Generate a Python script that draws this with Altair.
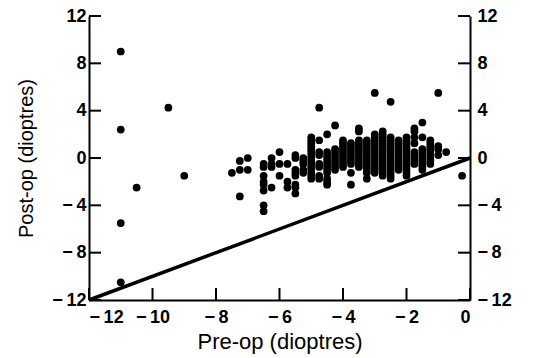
import altair as alt
import pandas as pd

# x position of each column of readings (pre-op, dioptres)
col_pre = [-7.5, -7.25, -7.0, -6.5, -6.25, -6.0, -5.75, -5.5, -5.25, -5.0,
           -4.75, -4.5, -4.25, -4.0, -3.75, -3.5, -3.25, -3.0, -2.75, -2.5,
           -2.25, -2.0, -1.75, -1.5, -1.25, -1.0, -0.75, -0.25]
# post-op readings in each column
col_post = [
    [-1.25],
    [-0.25, -1.0, -3.25],
    [0.0, -1.0],
    [-0.5, -0.75, -1.5, -2.0, -2.25, -2.75, -4.0, -4.5],
    [0.0, -0.5, -0.75, -2.5],
    [0.5, -0.5, -1.5],
    [-0.5, -2.0, -2.5],
    [0.25, 0.0, -1.0, -1.25, -1.5, -2.25, -2.5, -3.0],
    [0.0, -0.25, -0.5, -1.0, -1.25],
    [1.75, 1.5, 1.25, 1.0, 0.75, 0.5, 0.25, 0.0, -0.25, -0.5, -0.75, -1.0, -1.25, -1.5, -1.75],
    [4.25, 1.5, 0.5, 0.25, -0.5, -0.75, -1.5, -1.75],
    [2.0, 0.5, 0.25, 0.0, -0.25, -0.5, -0.75, -1.0, -1.25, -1.75, -2.0, -2.25],
    [2.75, 0.75, 0.5, 0.25, 0.0, -0.25, -0.5, -0.75, -1.0],
    [1.5, 1.25, 1.0, 0.75, 0.5, 0.25, 0.0, -0.25, -0.5, -0.75],
    [1.25, 1.0, 0.75, 0.5, 0.25, 0.0, -0.25, -0.5, -1.25, -2.25],
    [2.5, 2.25, 1.5, 1.25, 1.0, 0.75, 0.5, 0.25, 0.0, -0.25, -0.5, -0.75],
    [1.5, 1.25, 1.0, 0.75, 0.5, 0.25, 0.0, -0.25, -0.5, -0.75, -1.0, -1.25, -1.75],
    [5.5, 2.0, 1.75, 1.5, 1.25, 1.0, 0.75, 0.5, 0.25, 0.0, -0.25, -0.5, -0.75, -1.0, -1.25],
    [2.25, 2.0, 1.75, 1.5, 1.25, 1.0, 0.75, 0.5, 0.25, 0.0, -0.25, -0.5, -0.75, -1.0, -1.25, -1.5],
    [4.75, 1.75, 1.5, 1.25, 1.0, 0.75, 0.5, 0.25, 0.0, -0.25, -0.5, -0.75, -1.0, -1.25, -1.5, -1.75],
    [1.5, 1.25, 1.0, 0.75, 0.5, 0.25, 0.0, -0.25, -0.5, -0.75, -1.0],
    [1.75, 1.5, 1.25, 1.0, 0.75, 0.5, 0.25, 0.0, -0.25, -0.5, -0.75, -1.0, -1.25, -1.5],
    [2.5, 2.25, 1.75, 1.25, 0.5, 0.25, 0.0, -0.25, -0.5],
    [3.0, 1.75, 0.75, 0.5, 0.25, 0.0, -0.25, -0.5, -0.75, -1.0],
    [1.5, 1.25, 1.0, 0.75, 0.5, 0.25, 0.0, -0.25, -0.5],
    [5.5, 1.0, 0.75, 0.25],
    [0.5],
    [-1.5],
]
outlier_pre = [-11.0, -11.0, -11.0, -11.0, -10.5, -9.5, -9.0]
outlier_post = [9.0, 2.4, -5.5, -10.5, -2.5, 4.25, -1.5]

line_pre = [-12, 0]
line_post = [-12, 0]

x_ticks = [-12, -10, -8, -6, -4, -2, 0]
y_ticks = [-12, -8, -4, 0, 4, 8, 12]

rows = []
for xv, ys in zip(col_pre, col_post):
    for yv in ys:
        rows.append({"pre": xv, "post": yv})
for xv, yv in zip(outlier_pre, outlier_post):
    rows.append({"pre": xv, "post": yv})
pts = pd.DataFrame(rows)
line_df = pd.DataFrame({"pre": line_pre, "post": line_post})
xt_df = pd.DataFrame({"pre": x_ticks})
yt_df = pd.DataFrame({"post": y_ticks})

W, H = 381, 284
TL = 12
FONT = "Liberation Sans"
LBL = "replace(datum.label, '\u2212', '\u2212\u2009')"
xs = alt.Scale(domain=[-12, 0], nice=False, zero=False)
ys_ = alt.Scale(domain=[-12, 12], nice=False, zero=False)

line = alt.Chart(line_df).mark_line(color="black", strokeWidth=3.5).encode(
    x=alt.X("pre:Q", scale=xs, axis=alt.Axis(
        values=x_ticks, title="Pre-op (dioptres)", tickSize=0, labelFlush=True,
        labelPadding=8, titlePadding=5, titleFontSize=22, grid=False, labelExpr=LBL)),
    y=alt.Y("post:Q", scale=ys_, axis=None),
)

points = alt.Chart(pts).mark_circle(size=60, color="black", opacity=1).encode(
    x=alt.X("pre:Q", scale=xs),
    y=alt.Y("post:Q", scale=ys_, axis=alt.Axis(
        values=y_ticks, orient="left", title="Post-op (dioptres)", tickSize=0,
        labelPadding=3, titlePadding=15, titleFontSize=20, grid=False, labelExpr=LBL)),
)

left_ticks = alt.Chart(yt_df).mark_rule(color="black", strokeWidth=2).encode(
    y=alt.Y("post:Q", scale=ys_, axis=None),
    x=alt.value(0), x2=alt.value(TL),
)

right_ticks = alt.Chart(yt_df).mark_rule(color="black", strokeWidth=2).encode(
    y=alt.Y("post:Q", scale=ys_, axis=alt.Axis(
        values=y_ticks, orient="right", title=None, tickSize=0,
        labelPadding=7, grid=False, labelExpr=LBL)),
    x=alt.value(W - TL), x2=alt.value(W),
)

bottom_ticks = alt.Chart(xt_df).mark_rule(color="black", strokeWidth=2).encode(
    x=alt.X("pre:Q", scale=xs),
    y=alt.value(H - TL), y2=alt.value(H),
)

chart = alt.layer(line, points, left_ticks, right_ticks, bottom_ticks).resolve_scale(
    y="independent"
).properties(
    width=W, height=H,
    autosize=alt.AutoSizeParams(type="none"),
    padding={"left": 89, "top": 16, "right": 66, "bottom": 58},
).configure_view(stroke=None).configure_axis(
    domainColor="black", domainWidth=2,
    labelFont=FONT, labelFontSize=18, labelFontWeight="bold", labelColor="black",
    titleFont=FONT, titleFontWeight="normal", titleColor="black",
)

chart.save("out.html", embed_options={"renderer": "svg", "actions": False})
